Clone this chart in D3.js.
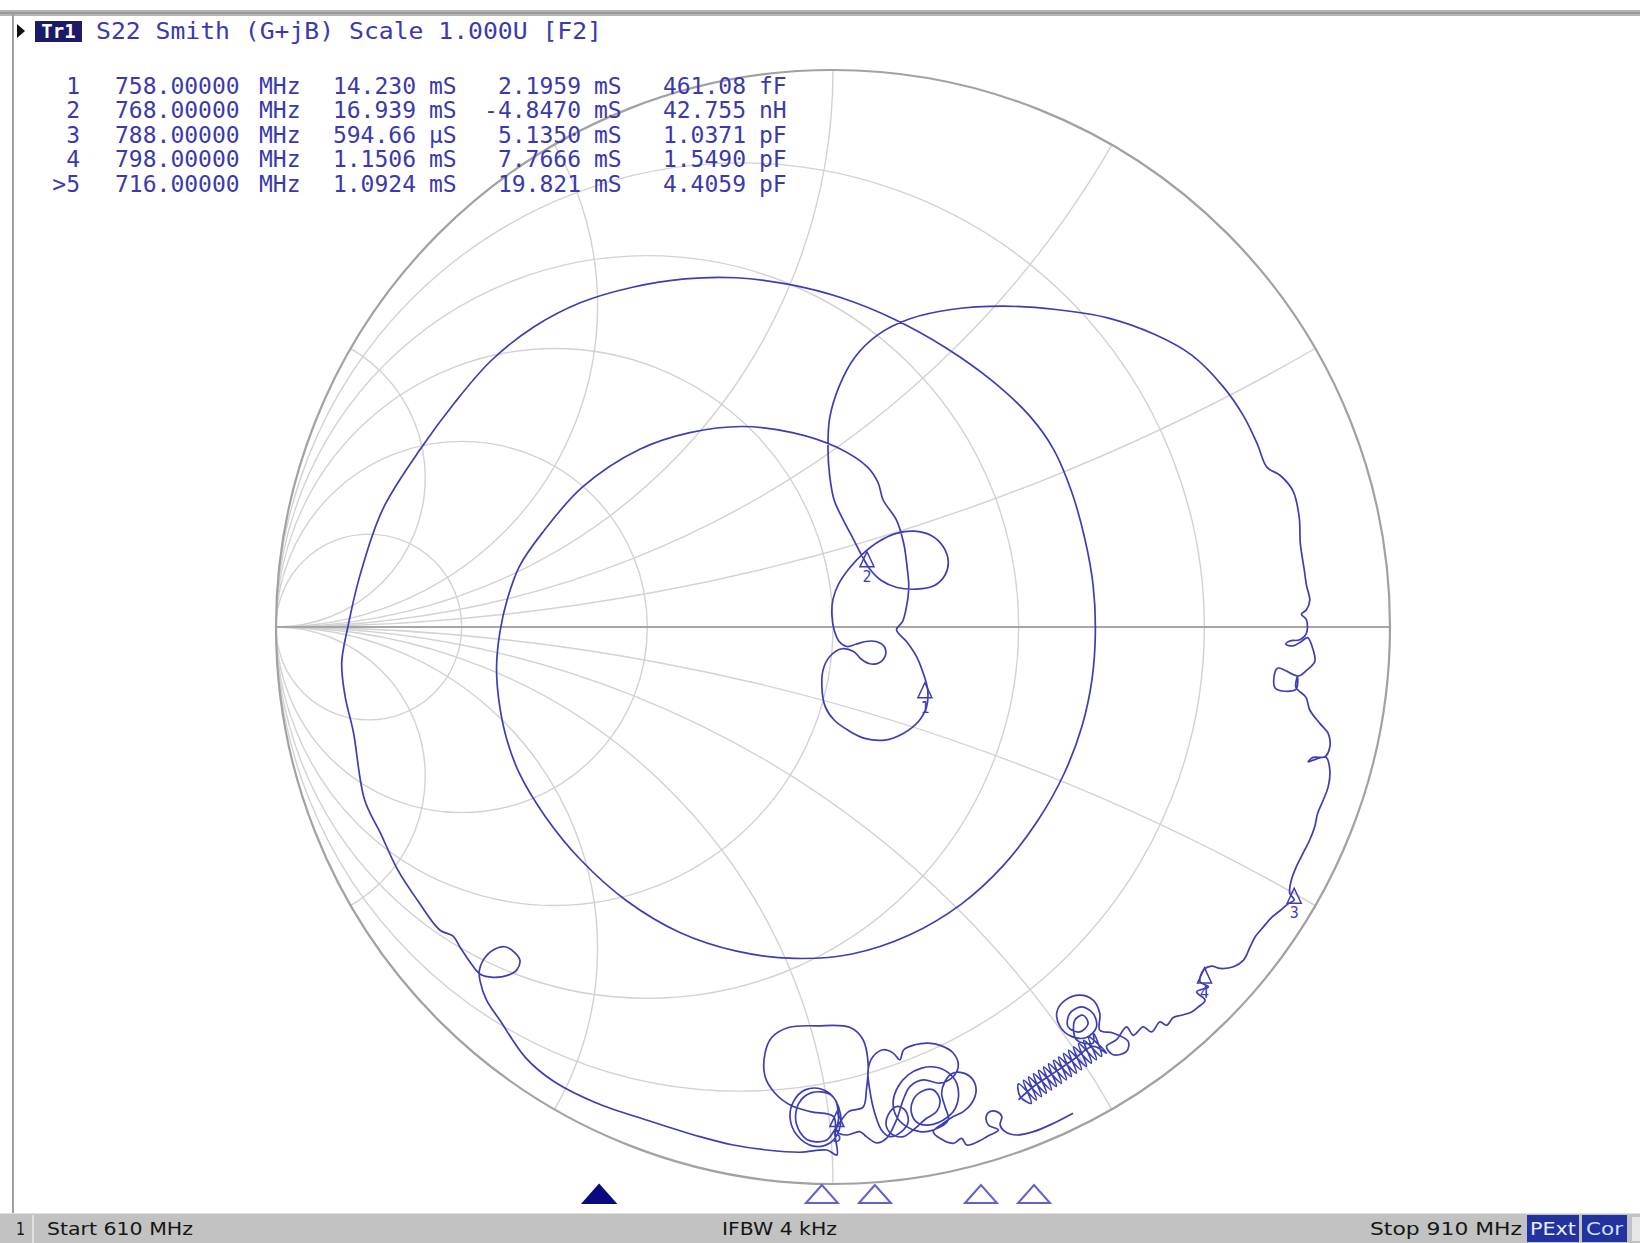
<!DOCTYPE html>
<html><head><meta charset="utf-8">
<script src="https://cdn.jsdelivr.net/npm/d3@7"></script>
<style>html,body{margin:0;padding:0;background:#fff;} svg{display:block}</style>
</head><body>
<svg id="chart" width="1640" height="1243"></svg>
<script>
// ---------------- DATA ----------------
const conductanceCircles = [0.2, 0.5, 1, 2, 5];                 // constant-G circles (normalized)
const susceptanceArcs = [0.268, 0.577, 1, 1.732, 3.732];        // constant-B arcs (normalized, +/-)
const startMHz = 610, stopMHz = 910;
const headerTrace = "Tr1";
const headerText = "S22 Smith (G+jB) Scale 1.000U [F2]";
const statusTexts = ["1", "Start 610 MHz", "IFBW 4 kHz", "Stop 910 MHz", "PExt", "Cor"];

const markerLabels = ["1", "2", "3", "4", ">5"];
const markerIds = ["1", "2", "3", "4", "5"];
const markerFreqMHz = [758, 768, 788, 798, 716];
const markerFreqText = ["758.00000", "768.00000", "788.00000", "798.00000", "716.00000"];
const markerG = ["14.230", "16.939", "594.66", "1.1506", "1.0924"];
const markerGUnit = ["mS", "mS", "µS", "mS", "mS"];
const markerB = ["2.1959", "-4.8470", "5.1350", "7.7666", "19.821"];
const markerBUnit = ["mS", "mS", "mS", "mS", "mS"];
const markerLC = ["461.08", "42.755", "1.0371", "1.5490", "4.4059"];
const markerLCUnit = ["fF", "nH", "pF", "pF", "pF"];
const markerRe = [0.165, 0.061, 0.828, 0.667, 0.007];
const markerIm = [-0.100, 0.135, -0.469, -0.612, -0.870];
const activeMarker = 4;

// S22 trace, reflection coefficient [Re, Im]
const traceGamma = [
[0.431,-0.873],[0.396,-0.891],[0.360,-0.906],[0.330,-0.912],[0.309,-0.906],[0.300,-0.894],[0.303,-0.879],[0.294,-0.870],[0.282,-0.870],[0.275,-0.879],[0.279,-0.894],[0.297,-0.903],[0.276,-0.915],[0.264,-0.922],[0.240,-0.930],[0.231,-0.918],[0.216,-0.927],[0.192,-0.918],
[0.180,-0.906],[0.198,-0.891],[0.216,-0.879],[0.234,-0.870],[0.249,-0.855],[0.257,-0.831],[0.249,-0.810],[0.231,-0.800],[0.213,-0.802],[0.201,-0.816],[0.195,-0.837],[0.201,-0.861],[0.207,-0.885],[0.180,-0.903],[0.156,-0.906],[0.132,-0.897],[0.114,-0.879],[0.108,-0.852],[0.117,-0.825],[0.135,-0.804],[0.159,-0.792],[0.183,-0.790],[0.207,-0.800],[0.222,-0.819],[0.225,-0.846],[0.216,-0.870],[0.198,-0.885],[0.174,-0.894],[0.153,-0.891],[0.141,-0.873],[0.144,-0.849],[0.159,-0.834],[0.180,-0.831],[0.192,-0.849],[0.186,-0.870],[0.168,-0.882],[0.144,-0.903],[0.126,-0.915],[0.108,-0.912],[0.096,-0.897],[0.099,-0.876],[0.114,-0.861],[0.129,-0.867],[0.135,-0.888],[0.123,-0.906],[0.102,-0.915],[0.087,-0.903],[0.075,-0.873],[0.066,-0.831],[0.063,-0.795],[0.072,-0.771],[0.090,-0.759],[0.108,-0.765],[0.120,-0.777],[0.127,-0.759],[0.147,-0.750],[0.171,-0.747],[0.195,-0.752],[0.215,-0.764],[0.225,-0.786],
[0.216,-0.807],[0.192,-0.819],[0.162,-0.813],[0.138,-0.825],[0.126,-0.849],[0.114,-0.885],[0.096,-0.918],[0.078,-0.926],[0.060,-0.915],[0.048,-0.906],[0.025,-0.912],[0.007,-0.906],
[0.010,-0.882],[0.004,-0.849],[-0.020,-0.830],[-0.050,-0.831],[-0.071,-0.852],[-0.077,-0.882],[-0.065,-0.912],[-0.035,-0.932],[-0.005,-0.926],[0.011,-0.903],[0.013,-0.873],[-0.004,-0.840],[-0.038,-0.836],[-0.062,-0.856],[-0.066,-0.891],[-0.047,-0.920],[-0.013,-0.922],[0.007,-0.897],[0.028,-0.870],[0.054,-0.862],[0.060,-0.831],[0.063,-0.783],[0.054,-0.741],[0.031,-0.719],[-0.029,-0.716],[-0.080,-0.719],[-0.110,-0.737],[-0.122,-0.765],[-0.122,-0.807],[-0.104,-0.837],[-0.077,-0.858],[-0.041,-0.870],[0.001,-0.879],[0.004,-0.915],[0.007,-0.948],[-0.011,-0.939],[-0.059,-0.943],[-0.119,-0.939],[-0.179,-0.930],[-0.239,-0.915],
[-0.332,-0.886],[-0.426,-0.854],[-0.501,-0.816],[-0.552,-0.773],
[-0.598,-0.706],[-0.622,-0.670],[-0.634,-0.634],[-0.635,-0.617],[-0.628,-0.598],[-0.610,-0.580],[-0.589,-0.574],[-0.571,-0.585],[-0.562,-0.599],[-0.568,-0.616],[-0.583,-0.625],[-0.610,-0.629],[-0.634,-0.623],[-0.652,-0.601],[-0.670,-0.574],[-0.682,-0.555],[-0.706,-0.544],
[-0.745,-0.492],[-0.782,-0.435],[-0.812,-0.371],[-0.841,-0.310],[-0.861,-0.189],[-0.876,-0.124],[-0.882,-0.064],[-0.871,0.000],[-0.850,0.090],[-0.809,0.210],[-0.741,0.319],
[-0.679,0.403],[-0.614,0.478],[-0.538,0.538],[-0.454,0.582],[-0.360,0.610],[-0.266,0.625],[-0.173,0.627],[-0.079,0.615],[0.015,0.591],[0.109,0.553],[0.203,0.501],[0.287,0.441],[0.353,0.379],[0.396,0.319],[0.428,0.244],[0.452,0.159],[0.467,0.075],[0.471,-0.009],[0.465,-0.094],[0.447,-0.178],[0.415,-0.263],[0.368,-0.347],[0.306,-0.428],[0.231,-0.497],[0.137,-0.553],[0.034,-0.587],[-0.069,-0.595],[-0.173,-0.582],[-0.276,-0.548],[-0.370,-0.492],[-0.454,-0.417],[-0.516,-0.341],[-0.563,-0.263],[-0.587,-0.197],[-0.600,-0.131],[-0.604,-0.071],[-0.598,-0.009],[-0.585,0.049],[-0.563,0.109],[-0.522,0.169],[-0.450,0.251],[-0.347,0.319],[-0.257,0.349],[-0.163,0.360],[-0.073,0.349],[0.006,0.323],[0.062,0.287],[0.081,0.259],
[0.090,0.228],[0.114,0.192],[0.127,0.150],[0.133,0.108],[0.136,0.072],[0.132,0.037],[0.125,0.010],[0.114,-0.005],
[0.132,-0.026],[0.150,-0.053],[0.162,-0.083],[0.170,-0.113],[0.168,-0.143],[0.153,-0.170],[0.126,-0.191],[0.093,-0.203],[0.057,-0.200],[0.028,-0.186],[0.002,-0.167],[-0.014,-0.143],[-0.020,-0.107],[-0.017,-0.074],[-0.005,-0.052],[0.016,-0.039],[0.037,-0.044],[0.051,-0.058],[0.066,-0.066],[0.083,-0.064],[0.094,-0.051],[0.092,-0.035],[0.077,-0.026],[0.059,-0.026],[0.041,-0.031],[0.025,-0.035],[0.011,-0.026],[0.002,-0.005],[-0.002,0.022],[0.000,0.050],[0.010,0.077],[0.029,0.105],[0.053,0.131],[0.083,0.154],[0.114,0.168],[0.145,0.172],[0.177,0.164],[0.198,0.144],[0.207,0.117],[0.201,0.093],[0.181,0.074],[0.150,0.068],[0.115,0.071],[0.086,0.084],[0.066,0.104],[0.053,0.126],[0.037,0.157],[0.019,0.191],[0.002,0.228],
[-0.006,0.272],[-0.009,0.319],[-0.006,0.375],[0.011,0.432],[0.039,0.484],[0.081,0.525],[0.137,0.553],[0.212,0.570],[0.306,0.576],[0.400,0.570],[0.493,0.555],[0.578,0.525],[0.644,0.488],[0.700,0.432],[0.737,0.379],[0.762,0.328],[0.779,0.287],[0.803,0.272],[0.826,0.244],[0.837,0.197],[0.839,0.150],[0.846,0.103],[0.850,0.075],
[0.856,0.048],[0.850,0.031],[0.841,0.023],[0.850,0.013],[0.850,-0.011],[0.838,-0.023],[0.820,-0.025],[0.813,-0.031],[0.826,-0.034],[0.841,-0.026],[0.852,-0.019],[0.862,-0.041],[0.865,-0.062],[0.850,-0.078],[0.835,-0.088],[0.798,-0.074],[0.794,-0.110],[0.831,-0.112],[0.834,-0.088],[0.831,-0.108],[0.849,-0.126],[0.856,-0.149],[0.874,-0.173],[0.889,-0.191],[0.892,-0.215],[0.883,-0.233],[0.862,-0.234],[0.853,-0.242],[0.865,-0.238],[0.885,-0.234],[0.892,-0.257],[0.889,-0.287],[0.880,-0.311],[0.870,-0.335],[0.865,-0.358],[0.856,-0.382],[0.844,-0.406],[0.832,-0.430],[0.823,-0.454],[0.820,-0.478],[0.828,-0.490],[0.817,-0.497],[0.803,-0.509],[0.788,-0.521],[0.773,-0.538],[0.758,-0.556],[0.749,-0.574],
[0.737,-0.598],[0.719,-0.610],[0.695,-0.613],[0.680,-0.609],[0.665,-0.616],[0.659,-0.637],[0.674,-0.646],[0.653,-0.655],[0.668,-0.670],[0.656,-0.682],[0.644,-0.691],[0.626,-0.697],[0.611,-0.701],[0.599,-0.715],[0.587,-0.709],[0.572,-0.727],[0.557,-0.718],[0.539,-0.733],[0.527,-0.718],[0.509,-0.741],[0.491,-0.753],[0.503,-0.768],[0.527,-0.762],[0.530,-0.744],[0.503,-0.729],[0.479,-0.724],[0.479,-0.694],[0.467,-0.670],[0.443,-0.661],[0.417,-0.670],[0.402,-0.691],[0.408,-0.718],[0.428,-0.735],[0.455,-0.737],[0.473,-0.718],[0.467,-0.694],[0.446,-0.682],[0.425,-0.694],[0.422,-0.718],[0.443,-0.727],[0.458,-0.712],[0.449,-0.697],[0.434,-0.706],[0.437,-0.741],[0.467,-0.747],
[0.468,-0.730],[0.482,-0.771],[0.450,-0.742],[0.464,-0.783],[0.432,-0.754],[0.446,-0.795],[0.414,-0.766],[0.428,-0.807],[0.396,-0.778],[0.410,-0.819],[0.378,-0.790],[0.392,-0.831],[0.360,-0.802],[0.374,-0.843],[0.342,-0.814],[0.356,-0.855],[0.336,-0.843],
[0.333,-0.820],[0.365,-0.849],[0.351,-0.808],[0.383,-0.837],[0.369,-0.796],[0.401,-0.825],[0.387,-0.784],[0.419,-0.813],[0.405,-0.772],[0.437,-0.801],[0.423,-0.760],[0.455,-0.789],[0.441,-0.748],[0.473,-0.777],[0.459,-0.736],[0.491,-0.765],
[0.467,-0.753],[0.431,-0.777],[0.396,-0.801],[0.360,-0.825],[0.333,-0.849]
];

// ---------------- LAYOUT / SCALES ----------------
const cx = 833, cy = 627, R = 557;
const x = d3.scaleLinear().domain([-1, 1]).range([cx - R, cx + R]);
const y = d3.scaleLinear().domain([-1, 1]).range([cy + R, cy - R]);
const fx = d3.scaleLinear().domain([startMHz, stopMHz]).range([37, 1628]);

const BLUE = "#3a3aae";
const TRACE = "#3d3db4";
const svg = d3.select("#chart");

// frame
svg.append("rect").attr("x", 0).attr("y", 0).attr("width", 1640).attr("height", 1243).attr("fill", "#fff");
svg.append("rect").attr("x", 0).attr("y", 10).attr("width", 1640).attr("height", 6).attr("fill", "#b4b4b4");
svg.append("rect").attr("x", 0).attr("y", 12).attr("width", 1640).attr("height", 2).attr("fill", "#9a9a9a");
svg.append("line").attr("x1", 13).attr("x2", 13).attr("y1", 14).attr("y2", 1213).attr("stroke", "#a0a0a0").attr("stroke-width", 2);

// grid
const defs = svg.append("defs");
defs.append("clipPath").attr("id", "unit").append("circle")
  .attr("cx", x(0)).attr("cy", y(0)).attr("r", x(1) - x(0));
const grid = svg.append("g").attr("clip-path", "url(#unit)")
  .attr("fill", "none").attr("stroke", "#d2d2d2").attr("stroke-width", 1.4);
conductanceCircles.forEach(g => {
  grid.append("circle").attr("cx", x(-g / (1 + g))).attr("cy", y(0)).attr("r", x(1 / (1 + g)) - x(0));
});
susceptanceArcs.forEach(b => {
  [1, -1].forEach(s => {
    grid.append("circle").attr("cx", x(-1)).attr("cy", y(s / b)).attr("r", x(1 / b) - x(0));
  });
});
svg.append("line").attr("x1", x(-1)).attr("x2", x(1)).attr("y1", y(0)).attr("y2", y(0))
  .attr("stroke", "#a6a6a6").attr("stroke-width", 2);
svg.append("circle").attr("cx", x(0)).attr("cy", y(0)).attr("r", x(1) - x(0))
  .attr("fill", "none").attr("stroke", "#a2a2a2").attr("stroke-width", 2.2);

// trace
const line = d3.line().x(d => x(d[0])).y(d => y(d[1])).curve(d3.curveCatmullRom.alpha(0.5));
svg.append("path").attr("d", line(traceGamma)).attr("fill", "none")
  .attr("stroke", TRACE).attr("stroke-width", 1.7).attr("stroke-linejoin", "round");

// markers on trace
markerIds.forEach((id, i) => {
  const px = x(markerRe[i]), py = y(markerIm[i]);
  svg.append("path").attr("d", `M${px},${py} L${px - 7},${py + 15} L${px + 7},${py + 15} Z`)
    .attr("fill", "none").attr("stroke", TRACE).attr("stroke-width", 1.5);
  svg.append("text").attr("x", px).attr("y", py + 30).attr("text-anchor", "middle")
    .attr("font-family", "DejaVu Sans Mono").attr("font-size", 15).attr("fill", TRACE).text(id);
});

// stimulus markers
markerFreqMHz.forEach((f, i) => {
  const px = fx(f);
  svg.append("path").attr("d", `M${px},1185 L${px - 16},1203 L${px + 16},1203 Z`)
    .attr("fill", i === activeMarker ? "#0a0a7e" : "#fff")
    .attr("stroke", i === activeMarker ? "#0a0a7e" : "#6262c8").attr("stroke-width", 2);
});

// header
svg.append("path").attr("d", "M17,24 L25,31 L17,38 Z").attr("fill", "#111");
svg.append("rect").attr("x", 35).attr("y", 21).attr("width", 47).attr("height", 21).attr("fill", "#1b1b6a");
svg.append("text").attr("x", 58.5).attr("y", 38).attr("text-anchor", "middle")
  .attr("font-family", "DejaVu Sans Mono").attr("font-weight", "bold").attr("font-size", 19)
  .attr("fill", "#fff").text(headerTrace);
svg.append("text").attr("x", 96).attr("y", 39)
  .attr("font-family", "DejaVu Sans Mono").attr("font-size", 23).attr("fill", BLUE)
  .attr("textLength", 506).attr("lengthAdjust", "spacingAndGlyphs").text(headerText);

// marker table
const rowY = [94, 118, 143, 167, 192];
const tf = { "font-family": "DejaVu Sans Mono", "font-size": 23, fill: BLUE };
function txt(s, xx, yy, anchor) {
  const t = svg.append("text").attr("x", xx).attr("y", yy).attr("text-anchor", anchor || "start").text(s);
  Object.entries(tf).forEach(([k, v]) => t.attr(k, v));
  return t;
}
markerLabels.forEach((lab, i) => {
  const yy = rowY[i];
  txt(lab, 80, yy, "end");
  txt(markerFreqText[i], 115, yy);
  txt("MHz", 259, yy);
  txt(markerG[i], 416, yy, "end");
  txt(markerGUnit[i], 429, yy);
  txt(markerB[i], 581, yy, "end");
  txt(markerBUnit[i], 594, yy);
  txt(markerLC[i], 746, yy, "end");
  txt(markerLCUnit[i], 759, yy);
});

// status bar
svg.append("rect").attr("x", 0).attr("y", 1213).attr("width", 1640).attr("height", 30).attr("fill", "#c2c2c2");
svg.append("line").attr("x1", 0).attr("x2", 1640).attr("y1", 1213.5).attr("y2", 1213.5).attr("stroke", "#e0e0e0");
svg.append("line").attr("x1", 33).attr("x2", 33).attr("y1", 1215).attr("y2", 1243).attr("stroke", "#e8e8e8").attr("stroke-width", 1.5);
const sf = "DejaVu Sans Condensed, Liberation Sans Narrow, Liberation Sans, sans-serif";
function stxt(s, xx, w, color) {
  return svg.append("text").attr("x", xx).attr("y", 1235).attr("font-family", sf).attr("font-size", 18)
    .attr("fill", color || "#151515").attr("textLength", w).attr("lengthAdjust", "spacingAndGlyphs").text(s);
}
stxt(statusTexts[0], 16, 9);
stxt(statusTexts[1], 47, 146);
stxt(statusTexts[2], 722, 115);
stxt(statusTexts[3], 1370, 152);
svg.append("rect").attr("x", 1527).attr("y", 1215).attr("width", 52).attr("height", 27).attr("fill", "#2233a0");
svg.append("rect").attr("x", 1582).attr("y", 1215).attr("width", 45).attr("height", 27).attr("fill", "#2233a0");
stxt(statusTexts[4], 1530, 46, "#e8ecff");
stxt(statusTexts[5], 1586, 37, "#cfe0ff");
svg.append("rect").attr("x", 1632).attr("y", 1217).attr("width", 8).attr("height", 24).attr("fill", "#e6e6e6");
</script>
</body></html>
